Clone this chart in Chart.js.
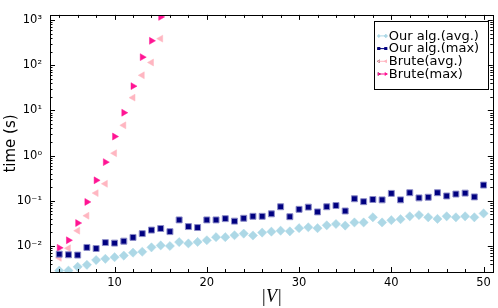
<!DOCTYPE html>
<html>
<head>
<meta charset="utf-8">
<script src="https://cdn.jsdelivr.net/npm/chart.js@4/dist/chart.umd.min.js"></script>
<style>
  html, body { margin: 0; padding: 0; background: #fff; }
  #wrap { width: 498px; height: 308px; }
</style>
</head>
<body>
<div id="wrap"><canvas id="timeChart"></canvas></div>
<script>
    // graph sizes |V|
    const sizes = [4, 5, 6, 7, 8, 9, 10, 11, 12, 13, 14, 15, 16, 17, 18, 19, 20, 21, 22, 23, 24, 25, 26,
                   27, 28, 29, 30, 31, 32, 33, 34, 35, 36, 37, 38, 39, 40, 41, 42, 43, 44, 45, 46, 47, 48, 49, 50];
    const oursAvg = [0.00286, 0.00286, 0.00347, 0.00383, 0.00489, 0.00521, 0.00565, 0.00614, 0.00711, 0.00746,
                     0.00934, 0.0103, 0.0100, 0.0122, 0.0114, 0.0123, 0.0134, 0.0157, 0.0157, 0.0173, 0.0188,
                     0.0171, 0.0198, 0.0208, 0.0218, 0.0211, 0.0248, 0.0260, 0.0248, 0.0287, 0.0307, 0.0283,
                     0.0332, 0.0332, 0.0432, 0.0332, 0.0373, 0.0392, 0.0454, 0.0483, 0.0432, 0.0398, 0.0454,
                     0.0432, 0.0454, 0.0432, 0.0525];
    const oursMax = [0.0066, 0.0064, 0.0063, 0.0093, 0.0088, 0.0119, 0.0116, 0.0128, 0.0155, 0.0188, 0.0225,
                     0.0244, 0.0208, 0.0378, 0.0269, 0.0256, 0.0378, 0.0378, 0.0403, 0.0355, 0.0411,
                     0.0454, 0.0454, 0.0515, 0.0739, 0.0445, 0.0648, 0.0725, 0.0568, 0.0739, 0.0787, 0.0596,
                     0.111, 0.0957, 0.107, 0.105, 0.146, 0.105, 0.151, 0.116, 0.120, 0.151, 0.128, 0.141,
                     0.148, 0.122, 0.223];
    const bruteSizes = [4, 5, 6, 7, 8, 9, 10, 11, 12, 13, 14, 15];
    const bruteAvg = [0.00547, 0.0089, 0.0218, 0.0468, 0.148, 0.238, 1.13, 4.68, 19.2, 59.9, 115, 388];
    const bruteMax = [0.0091, 0.0134, 0.0322, 0.0944, 0.284, 0.718, 2.64, 8.9, 34.5, 151, 347, 1175];

    const labels = ['Our alg.(avg.)', 'Our alg.(max)', 'Brute(avg.)', 'Brute(max)'];

    const toPoints = (xs, ys) => xs.map((x, i) => ({ x: x, y: ys[i] }));
    const isMultiple = (v, k) => Math.abs(v / k - Math.round(v / k)) < 1e-6;

    const SUP = { '-': '\u207B', '0': '\u2070', '1': '\u00B9', '2': '\u00B2', '3': '\u00B3',
                  '4': '\u2074', '5': '\u2075', '6': '\u2076', '7': '\u2077', '8': '\u2078', '9': '\u2079' };
    function decadeLabel(v) {
        const e = Math.log10(v);
        if (Math.abs(e - Math.round(e)) > 1e-9) return '';
        return '10' + String(Math.round(e)).split('').map(c => SUP[c]).join('');
    }

    // inward ticks on all four sides + frame, like matplotlib
    const framePlugin = {
        id: 'frame',
        afterDatasetsDraw(chart) {
            const ctx = chart.ctx;
            const a = chart.chartArea;
            const xs = chart.scales.x, ys = chart.scales.y;
            ctx.save();
            ctx.strokeStyle = '#000';
            ctx.lineWidth = 1;
            ctx.beginPath();
            xs.ticks.forEach(t => {
                if (!isMultiple(t.value, 2)) return;
                const px = Math.round(xs.getPixelForValue(t.value)) + 0.5;
                const len = isMultiple(t.value, 10) ? 5 : 3;
                ctx.moveTo(px, a.bottom); ctx.lineTo(px, a.bottom - len);
                ctx.moveTo(px, a.top); ctx.lineTo(px, a.top + len);
            });
            ys.ticks.forEach(t => {
                const e = Math.floor(Math.log10(t.value) + 1e-9);
                const m = t.value / Math.pow(10, e);
                if (Math.abs(m - Math.round(m)) > 1e-6) return;
                const py = Math.round(ys.getPixelForValue(t.value)) + 0.5;
                const len = Math.round(m) === 1 ? 5 : 2.5;
                ctx.moveTo(a.left, py); ctx.lineTo(a.left + len, py);
                ctx.moveTo(a.right, py); ctx.lineTo(a.right - len, py);
            });
            ctx.stroke();
            ctx.strokeRect(Math.round(a.left) + 0.5, Math.round(a.top) + 0.5,
                           Math.round(a.right - a.left), Math.round(a.bottom - a.top));
            ctx.restore();
        },
        afterDraw(chart) {
            // legend box in the upper right corner of the axes
            const ctx = chart.ctx;
            const a = chart.chartArea;
            const bx = a.right - 119, by = a.top + 6, bw = 114, bh = 68;
            ctx.save();
            ctx.fillStyle = '#fff';
            ctx.fillRect(bx, by, bw, bh);
            ctx.strokeStyle = '#000';
            ctx.lineWidth = 1;
            ctx.strokeRect(Math.round(bx) + 0.5, Math.round(by) + 0.5, bw, bh);
            ctx.font = '13px "DejaVu Sans"';
            ctx.textBaseline = 'middle';
            chart.data.datasets.forEach((ds, i) => {
                const y = by + 15 + i * 12.7;
                const x0 = bx + 4, x1 = bx + 13;
                ctx.strokeStyle = ds.backgroundColor;
                ctx.beginPath();
                ctx.moveTo(x0, y); ctx.lineTo(x1, y);
                ctx.stroke();
                [x0 + 1, x1 - 1].forEach(px => {
                    Chart.helpers.drawPoint(ctx, {
                        pointStyle: ds.pointStyle, rotation: ds.rotation || 0,
                        radius: 2, borderWidth: 0
                    }, px, y);
                    ctx.fillStyle = ds.backgroundColor;
                    ctx.fill();
                });
                ctx.fillStyle = '#000';
                ctx.fillText(ds.label, bx + 15, y + 0.5);
            });
            ctx.restore();
        }
    };

    const ctx = document.getElementById('timeChart').getContext('2d');
    const timeChart = new Chart(ctx, {
        type: 'scatter',
        data: {
            datasets: [
                {
                    label: labels[0],
                    data: toPoints(sizes, oursAvg),
                    pointStyle: 'rectRot',
                    pointRadius: 4.6,
                    backgroundColor: '#add8e6',
                    borderColor: '#add8e6',
                    borderWidth: 0.5,
                    clip: 0
                },
                {
                    label: labels[1],
                    data: toPoints(sizes, oursMax),
                    pointStyle: 'rect',
                    pointRadius: 4.2,
                    backgroundColor: '#000080',
                    borderColor: '#8c8cc8',
                    borderWidth: 1,
                    clip: 0
                },
                {
                    label: labels[2],
                    data: toPoints(bruteSizes, bruteAvg),
                    pointStyle: 'triangle',
                    rotation: -90,
                    pointRotation: -90,
                    pointRadius: 4,
                    backgroundColor: '#ffb6c1',
                    borderColor: '#ffb6c1',
                    borderWidth: 0.5,
                    clip: 0
                },
                {
                    label: labels[3],
                    data: toPoints(bruteSizes, bruteMax),
                    pointStyle: 'triangle',
                    rotation: 90,
                    pointRotation: 90,
                    pointRadius: 4,
                    backgroundColor: '#ff1493',
                    borderColor: '#ff1493',
                    borderWidth: 0.5,
                    clip: 0
                }
            ]
        },
        options: {
            responsive: true,
            maintainAspectRatio: false,
            animation: false,
            layout: { padding: { top: 3, right: 4, left: 0, bottom: 0 } },
            scales: {
                x: {
                    type: 'linear',
                    min: 3,
                    max: 51,
                    border: { display: false },
                    grid: { display: false, drawTicks: false },
                    ticks: {
                        stepSize: 1,
                        autoSkip: false,
                        maxRotation: 0,
                        minRotation: 0,
                        padding: 4,
                        color: '#000',
                        font: { family: 'DejaVu Sans', size: 11.5 },
                        callback: function (v) {
                            return isMultiple(v, 10) ? String(Math.round(v)) : '';
                        }
                    },
                    title: {
                        display: true,
                        text: '|V|',
                        color: '#000',
                        padding: { top: 1, bottom: 0 },
                        font: { family: 'Liberation Serif', size: 18, style: 'italic' }
                    },
                    afterFit: s => { s.height = 36; }
                },
                y: {
                    type: 'logarithmic',
                    min: 0.00266,
                    max: 1300,
                    border: { display: false },
                    grid: { display: false, drawTicks: false },
                    ticks: {
                        autoSkip: false,
                        padding: 8,
                        color: '#000',
                        font: { family: 'DejaVu Sans', size: 11.5 },
                        callback: v => decadeLabel(v)
                    },
                    title: {
                        display: true,
                        text: 'time (s)',
                        color: '#000',
                        padding: { top: 2, bottom: 0 },
                        font: { family: 'DejaVu Sans', size: 15 }
                    },
                    afterFit: s => { s.width = 50; }
                }
            },
            plugins: {
                legend: { display: false },
                tooltip: { enabled: false }
            }
        },
        plugins: [framePlugin]
    });
</script>
</body>
</html>
